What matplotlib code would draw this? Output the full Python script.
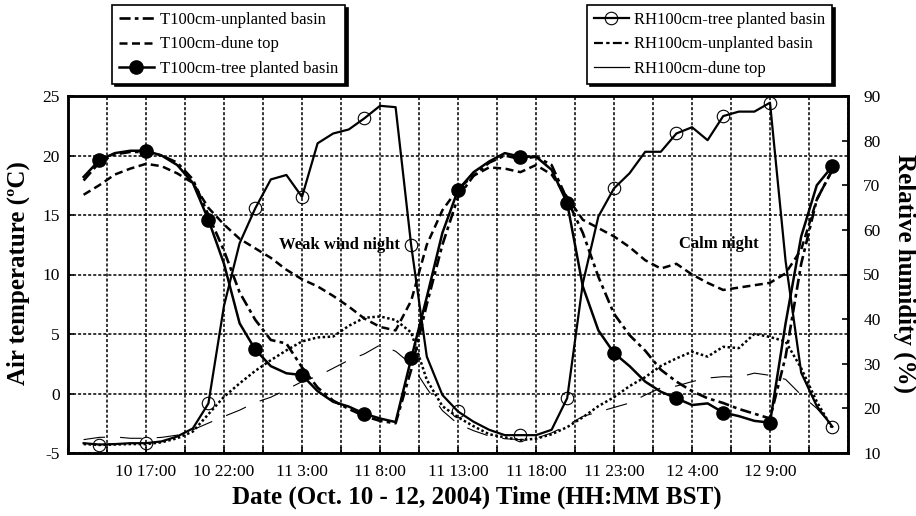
import matplotlib
matplotlib.use("Agg")
import matplotlib.pyplot as plt
from matplotlib.lines import Line2D
import numpy as np

# hours after Oct 10 12:00, one reading per hour
hours = list(range(1, 50))

t_tree = [18.2, 19.6, 20.2, 20.4, 20.4, 20.0, 19.2, 17.7, 14.6, 10.9,
          5.9, 3.7, 2.3, 1.7, 1.55, 0.2, -0.7, -1.1, -1.7, -2.1,
          -2.4, 2.95, 8.1, 13.5, 17.1, 18.6, 19.5, 20.2, 19.9, 19.9,
          18.8, 16.0, 9.0, 5.3, 3.4, 2.3, 1.0, 0.15, -0.4, -0.97,
          -0.83, -1.6, -1.9, -2.3, -2.45, 5.9, 13.2, 17.5, 19.1]
t_unplanted = [17.9, 19.4, 20.1, 20.3, 20.3, 20.0, 19.4, 18.0, 15.0, 12.0,
               8.5, 6.2, 4.5, 4.2, 2.2, 0.5, -0.6, -1.3, -1.9, -2.3,
               -2.5, 2.0, 7.5, 12.5, 16.5, 18.3, 19.4, 20.0, 19.7, 19.9,
               19.2, 16.3, 13.5, 9.8, 6.7, 4.9, 3.6, 2.0, 1.0, 0.2,
               -0.4, -0.8, -1.3, -1.7, -2.1, 3.1, 10.9, 16.3, 18.8]
t_dune = [16.7, 17.5, 18.4, 18.9, 19.3, 19.1, 18.5, 17.7, 15.6, 14.2,
          13.0, 12.2, 11.4, 10.4, 9.6, 9.0, 8.2, 7.3, 6.3, 5.6,
          5.3, 7.8, 12.5, 15.4, 17.2, 18.3, 19.0, 18.9, 18.6, 19.2,
          18.4, 16.5, 14.6, 13.9, 13.2, 12.3, 11.2, 10.5, 10.9, 10.0,
          9.3, 8.7, 8.9, 9.1, 9.3, 10.1, 12.1, 16.3, 18.8]

rh_tree = [12.2, 11.9, 12.0, 12.2, 12.2, 12.6, 13.7, 15.5, 21.1, 43.0,
           57.0, 64.8, 71.3, 72.3, 67.4, 79.4, 81.6, 82.5, 85.0, 87.8,
           87.5, 56.5, 31.6, 23.0, 19.3, 17.0, 15.2, 14.0, 14.0, 14.0,
           15.2, 22.3, 48.0, 63.0, 69.3, 72.7, 77.5, 77.5, 81.6, 83.0,
           80.1, 85.5, 86.5, 86.5, 88.5, 53.0, 28.0, 20.5, 15.9]
rh_unplanted = [12.0, 11.8, 11.9, 12.0, 12.0, 12.4, 13.3, 14.8, 18.7, 22.6,
                25.6, 28.4, 30.8, 33.0, 35.0, 35.9, 36.1, 38.5, 40.3, 40.6,
                39.8, 37.0, 26.4, 20.5, 18.0, 16.0, 14.2, 13.5, 12.9, 13.2,
                14.2, 15.8, 18.0, 20.5, 22.5, 25.0, 27.0, 29.5, 31.2, 32.7,
                31.6, 33.8, 33.5, 36.7, 36.0, 35.0, 29.0, 21.5, 15.5]
rh_dune = [13.0, 13.5, 13.6, 13.3, 13.3, 13.5, 14.0, 15.2, 16.7, 18.2,
           19.6, 21.3, 22.5, 24.2, 26.0, 27.2, 29.0, 30.8, 32.2, 34.2,
           32.8, 29.9, 24.5, 19.5, 16.5, 15.0, 13.8, 13.2, 13.0, 13.3,
           14.5, 16.2, 18.2, 19.2, 20.2, 21.2, 23.0, 24.6, 25.0, 26.0,
           26.8, 27.1, 27.0, 27.9, 27.4, 26.5, 23.0, 20.0, 16.0]

marker_idx = [1, 4, 8, 11, 14, 18, 21, 24, 28, 31, 34, 38, 41, 44, 48]

tick_hours = [5, 10, 15, 20, 25, 30, 35, 40, 45]
tick_labels = ["10 17:00", "10 22:00", "11 3:00", "11 8:00", "11 13:00",
               "11 18:00", "11 23:00", "12 4:00", "12 9:00"]

plt.rcParams['font.family'] = ['Liberation Serif', 'DejaVu Serif']
plt.rcParams['axes.unicode_minus'] = False

W, H = 916, 516
fig = plt.figure(figsize=(W / 100, H / 100), dpi=100)
ax = fig.add_axes([68 / W, 1 - 453 / H, 780 / W, 357 / H])
ax2 = ax.twinx()

# temperature (left axis)
ax.plot(hours, t_unplanted, color='black', lw=1.9,
        linestyle=(0, (4.2, 1.6, 1.4, 1.6)), dash_capstyle='butt')
ax.plot(hours, t_dune, color='black', lw=1.8,
        linestyle=(0, (3.2, 1.8)), dash_capstyle='butt')
ax.plot(hours, t_tree, color='black', lw=1.8, marker='o', ms=9.5,
        markevery=marker_idx, mfc='black', mec='black')

# relative humidity (right axis)
ax2.plot(hours, rh_tree, color='black', lw=1.6, marker='o', ms=9,
         markevery=marker_idx, mfc='none', mec='black', mew=0.8)
ax2.plot(hours, rh_unplanted, color='black', lw=1.8,
         linestyle=(0, (1.0, 1.0)), dash_capstyle='butt')
ax2.plot(hours, rh_dune, color='black', lw=0.8,
         linestyle=(0, (19.5, 13.5)))

ax.set_xlim(0, 50)
ax.set_ylim(-5, 25)
ax2.set_ylim(10, 90)

ax.set_xticks(np.arange(0, 50.1, 2.5))
ax.set_xticklabels([tick_labels[tick_hours.index(h)] if h in tick_hours else ""
                    for h in np.arange(0, 50.1, 2.5)])
ax.set_yticks(range(-5, 26, 5))
ax2.set_yticks(range(10, 91, 10))

ax.grid(True, color='black', lw=1.1, linestyle=(0, (2.0, 1.3)))
ax.tick_params(axis='x', direction='in', length=4, width=1.2, pad=8,
               labelsize=12.5)
ax.tick_params(axis='y', direction='in', length=4, width=1.2, pad=6,
               labelsize=12.5)
ax2.tick_params(axis='y', direction='in', length=4, width=1.2, pad=11,
                labelsize=12.5)
for a in (ax, ax2):
    for s in a.spines.values():
        s.set_linewidth(1.8)

ax.text(17.4, 12.5, "Weak wind night", fontsize=12, fontweight='bold',
        ha='center', va='center')
ax.text(41.7, 12.6, "Calm night", fontsize=12, fontweight='bold',
        ha='center', va='center')

fig.text(18 / W, 1 - 273 / H, "Air temperature (ºC)", rotation=90,
         fontsize=18, fontweight='bold', ha='center', va='center')
fig.text(905 / W, 1 - 273 / H, "Relative humidity (%)", rotation=270,
         fontsize=18, fontweight='bold', ha='center', va='center')
fig.text(477 / W, 1 - 497 / H, "Date (Oct. 10 - 12, 2004) Time (HH:MM BST)",
         fontsize=18, fontweight='bold', ha='center', va='center')

# legends
left_handles = [
    Line2D([], [], color='black', lw=1.9, linestyle=(0, (4.2, 1.6, 1.4, 1.6))),
    Line2D([], [], color='black', lw=1.8, linestyle=(0, (3.2, 1.8))),
    Line2D([], [], color='black', lw=1.8, marker='o', ms=9.5),
]
left_labels = ["T100cm-unplanted basin", "T100cm-dune top",
               "T100cm-tree planted basin"]
right_handles = [
    Line2D([], [], color='black', lw=1.6, marker='o', ms=9, mfc='none',
           mew=0.8),
    Line2D([], [], color='black', lw=1.6, linestyle=(0, (4.0, 1.5, 1.5, 1.5))),
    Line2D([], [], color='black', lw=0.9),
]
right_labels = ["RH100cm-tree planted basin", "RH100cm-unplanted basin",
                "RH100cm-dune top"]

common = dict(loc='upper left', mode='expand', borderaxespad=0,
              fontsize=12, frameon=True, fancybox=False, framealpha=1,
              edgecolor='black', shadow={'color': 'black', 'alpha': 1},
              handlelength=2.1, handletextpad=0.35, labelspacing=0.52,
              borderpad=0.4)
leg1 = fig.legend(left_handles, left_labels,
                  bbox_to_anchor=(112 / W, 1 - 86 / H, 233 / W, 81 / H),
                  **common)
leg1.get_frame().set_linewidth(1.2)
leg2 = fig.legend(right_handles, right_labels,
                  bbox_to_anchor=(587 / W, 1 - 86 / H, 245 / W, 81 / H),
                  **common)
leg2.get_frame().set_linewidth(1.2)

fig.savefig("out.png", dpi=100)
